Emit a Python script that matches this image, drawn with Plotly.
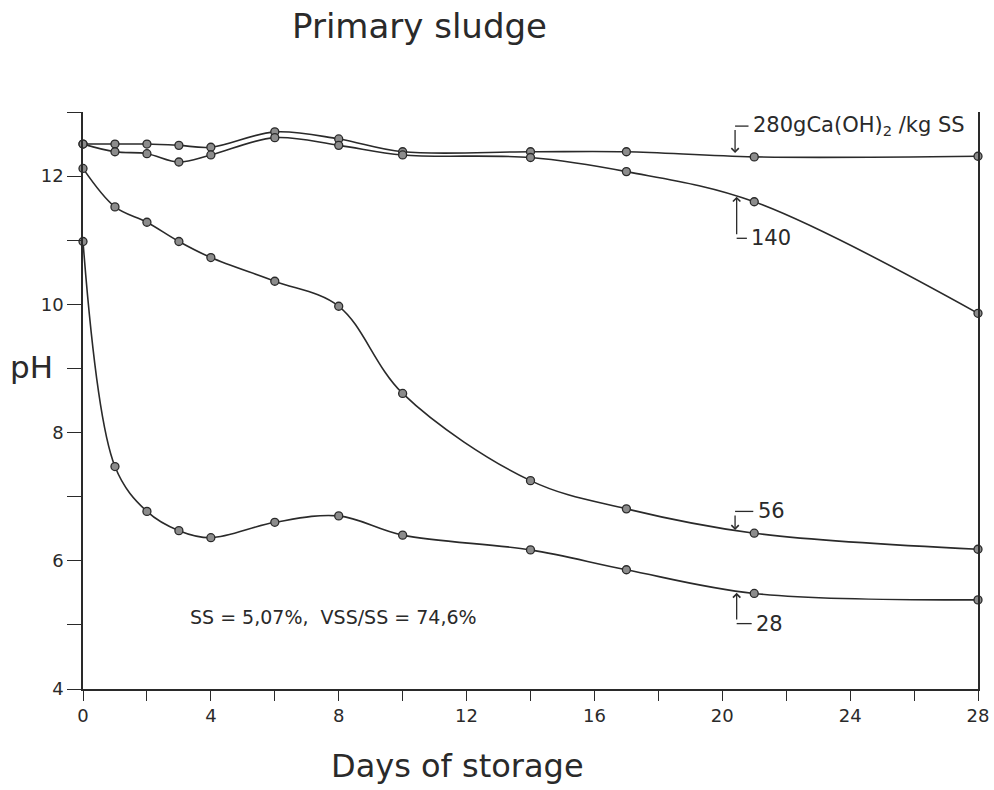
import plotly.graph_objects as go

# ---- data ----
days = [0, 1, 2, 3, 4, 6, 8, 10, 14, 17, 21, 28]
ph_280 = [12.50, 12.50, 12.50, 12.48, 12.45, 12.69, 12.58, 12.38, 12.38, 12.38, 12.30, 12.31]
ph_140 = [12.50, 12.38, 12.35, 12.22, 12.33, 12.60, 12.48, 12.33, 12.29, 12.07, 11.60, 9.86]
ph_56 = [12.12, 11.52, 11.28, 10.98, 10.73, 10.36, 9.97, 8.61, 7.25, 6.81, 6.43, 6.18]
ph_28 = [10.98, 7.47, 6.77, 6.47, 6.36, 6.60, 6.70, 6.40, 6.17, 5.86, 5.49, 5.39]

x_tickvals = list(range(0, 29, 2))
x_ticktext = [str(v) if v % 4 == 0 else "" for v in x_tickvals]
y_tickvals = list(range(4, 14))
y_ticktext = [str(v) if v % 2 == 0 else "" for v in y_tickvals]

# label leaders: (text, text_x, corner_y, tip_y, leader_x)
labels = [
    ("280gCa(OH)<sub>2</sub> /kg SS", 20.9, 12.78, 12.36, 20.4),
    ("140", 20.85, 11.03, 11.68, 20.45),
    ("56", 21.05, 6.77, 6.48, 20.4),
    ("28", 21.0, 5.02, 5.50, 20.45),
]

INK = "#2a2a2a"
FONT = "DejaVu Sans"

fig = go.Figure()
for ys in [ph_280, ph_140, ph_56, ph_28]:
    fig.add_trace(go.Scatter(
        x=days, y=ys, mode="lines+markers",
        line=dict(color=INK, width=1.6, shape="spline", smoothing=1.0),
        marker=dict(symbol="circle", size=8, color="#8c8c8c",
                    line=dict(color=INK, width=1.3)),
        cliponaxis=False, showlegend=False, hoverinfo="skip",
    ))

annotations = []
shapes = []
for text, tx, cy, ty, lx in labels:
    # horizontal part of leader
    shapes.append(dict(type="line", xref="x", yref="y", x0=lx, x1=tx - 0.08,
                       y0=cy, y1=cy, line=dict(color=INK, width=1.3)))
    # vertical part with arrowhead
    annotations.append(dict(x=lx, y=ty, ax=lx, ay=cy, xref="x", yref="y",
                            axref="x", ayref="y", text=" ", showarrow=True,
                            arrowhead=4, arrowsize=1.1, arrowwidth=1.3,
                            arrowcolor=INK, font=dict(size=4)))
    annotations.append(dict(x=tx, y=cy, xref="x", yref="y", text=text,
                            showarrow=False, xanchor="left", yanchor="middle",
                            font=dict(family=FONT, size=21, color=INK)))

annotations += [
    dict(x=7.85, y=5.12, xref="x", yref="y", text="SS = 5,07%,  VSS/SS = 74,6%",
         showarrow=False, xanchor="center", yanchor="middle",
         font=dict(family=FONT, size=19, color=INK)),
    dict(x=0.3765, y=1.149, xref="paper", yref="paper", text="Primary sludge",
         showarrow=False, xanchor="center", yanchor="middle",
         font=dict(family=FONT, size=34, color=INK)),
    dict(x=0.418, y=-0.1335, xref="paper", yref="paper", text="Days of storage",
         showarrow=False, xanchor="center", yanchor="middle",
         font=dict(family=FONT, size=32, color=INK)),
    dict(x=-0.0581, y=0.558, xref="paper", yref="paper", text="pH",
         showarrow=False, xanchor="center", yanchor="middle",
         font=dict(family=FONT, size=31, color=INK)),
]

fig.update_layout(
    width=994, height=790, autosize=False,
    margin=dict(l=83, r=16, t=112, b=101, autoexpand=False),
    paper_bgcolor="white", plot_bgcolor="white",
    font=dict(family=FONT, color=INK),
    xaxis=dict(range=[0, 28], tickvals=x_tickvals, ticktext=x_ticktext,
               automargin=False,
               showgrid=False, zeroline=False, showline=True, linecolor=INK,
               linewidth=1.6, ticks="outside", ticklen=10, tickwidth=1.4,
               tickcolor=INK, tickfont=dict(size=18, family=FONT)),
    yaxis=dict(range=[4, 13], tickvals=y_tickvals, ticktext=y_ticktext,
               automargin=False,
               showgrid=False, zeroline=False, showline=True, linecolor=INK,
               linewidth=1.6, mirror=True, ticks="outside", ticklen=14,
               tickwidth=1.4, tickcolor=INK, tickfont=dict(size=18, family=FONT)),
    annotations=annotations,
    shapes=shapes,
)

fig.write_html(
    "out.html",
    config={"displayModeBar": False},
    post_script="document.body.style.margin='0';document.body.style.overflow='hidden';",
)
